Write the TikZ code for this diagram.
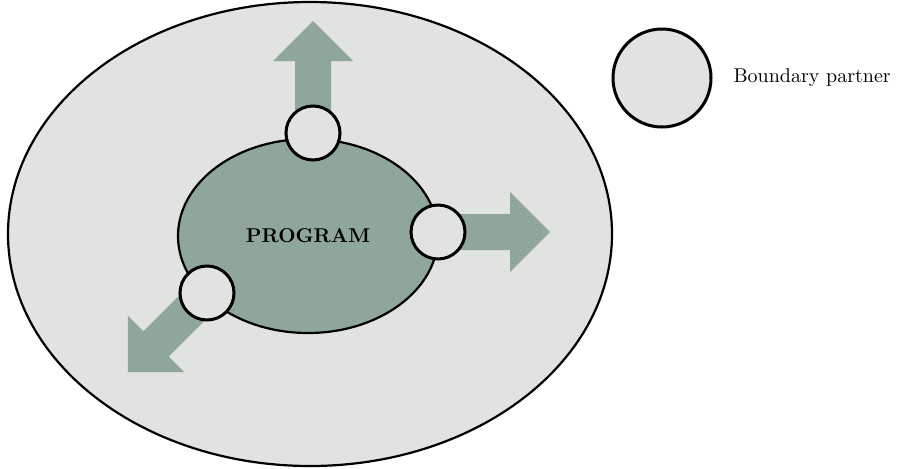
\documentclass[tikz,border=0pt]{standalone}
\usepackage{xcolor}
\usepackage{tikz}
\usetikzlibrary{shapes.geometric, positioning}

\definecolor{fieldgray}{RGB}{225,227,224}
\definecolor{sage}{RGB}{143,166,155}

\begin{document}
\begin{tikzpicture}[x=0.5pt, y=0.5pt,
        field/.style={ellipse, draw=black, fill=fieldgray, line width=1.1pt, minimum width=302pt, minimum height=232pt},
        program/.style={ellipse, draw=black, fill=sage, line width=1.1pt, minimum width=130pt, minimum height=97pt, font=\bfseries},
        partner/.style={circle, draw=black, fill=fieldgray, line width=1.5pt, minimum size=27pt, inner sep=0pt},
        bigarrow/.pic={\fill[sage] (0,18) -- (72,18) -- (72,40) -- (112,0) -- (72,-40) -- (72,-18) -- (0,-18) -- cycle;}
    ]
        \useasboundingbox (0,0) rectangle (899,468);

        \node[field] (sphere) at (310,234) {};
        \node[program] (prog) at (308,232) {PROGRAM};

        % Arrows out of the partners
        \path (313,335) pic[rotate=90] {bigarrow};
        \path (438,236) pic {bigarrow};
        \path (207,175) pic[rotate=225] {bigarrow};

        \node[partner] (ptop) at (313,335) {};
        \node[partner] (pright) at (438,236) {};
        \node[partner] (pleft) at (207,175) {};

        % Legend
        \node[partner, minimum size=49pt] (legend) at (662,390) {};
        \node[right=7pt of legend] (legtext) {Boundary partner};

    \end{tikzpicture}
\end{document}
